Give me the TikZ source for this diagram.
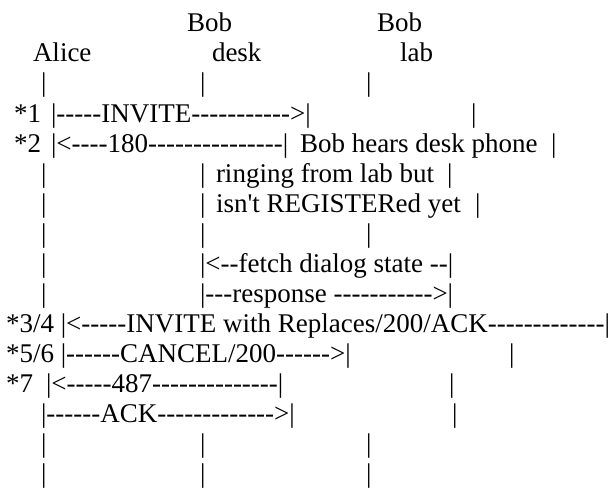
\documentclass[tikz,border=0pt]{standalone}
\usepackage{fontspec}
\setmainfont{Liberation Serif}[Ligatures=TeXOff]
\begin{document}
\begin{tikzpicture}[x=1pt, y=-1pt,
    txt/.style={anchor=base west, inner sep=0pt, outer sep=0pt,
        font=\fontsize{27}{31}\selectfont}
]
\useasboundingbox (0,0) rectangle (612,492);
\node[txt] (bobd) at (187,32) {Bob};
\node[txt] (bobl) at (377,32) {Bob};
\node[txt] (alice) at (33,62) {Alice};
\node[txt] (desk) at (212,62) {desk};
\node[txt] (lab) at (400,62) {lab};
\foreach \r/\y in {3/92, 8/242, 15/452, 16/482} {
    \node[txt] (l\r a) at (41,\y) {|};
    \node[txt] (l\r b) at (200,\y) {|};
    \node[txt] (l\r c) at (366,\y) {|};
}
\node[txt] (s1) at (14,122) {*1};
\node[txt] (m1) at (51,122) {|-----INVITE----------->|};
\node[txt] (l4c) at (471,122) {|};
\node[txt] (s2) at (14,152) {*2};
\node[txt] (m2) at (51,152) {|<----180---------------|};
\node[txt] (note1) at (300,152) {Bob hears desk phone};
\node[txt] (l5c) at (551,152) {|};
\node[txt] (l6a) at (41,182) {|};
\node[txt] (l6b) at (200,182) {|};
\node[txt] (note2) at (216,182) {ringing from lab but};
\node[txt] (l6c) at (447,182) {|};
\node[txt] (l7a) at (41,212) {|};
\node[txt] (l7b) at (200,212) {|};
\node[txt] (note3) at (216,212) {isn't REGISTERed yet};
\node[txt] (l7c) at (475,212) {|};
\node[txt] (l9a) at (41,272) {|};
\node[txt] (m3) at (200,272) {|<--fetch dialog state --|};
\node[txt] (l10a) at (41,302) {|};
\node[txt] (m4) at (200,302) {|---response ----------->|};
\node[txt] (m5) at (6,332) {*3/4 |<-----INVITE with Replaces/200/ACK-------------|};
\node[txt] (m6) at (6,362) {*5/6 |------CANCEL/200------>|};
\node[txt] (l12c) at (509,362) {|};
\node[txt] (s7) at (6,392) {*7};
\node[txt] (m7) at (46,392) {|<-----487--------------|};
\node[txt] (l13c) at (449,392) {|};
\node[txt] (m8) at (41,422) {|------ACK------------->|};
\node[txt] (l14c) at (452,422) {|};
\end{tikzpicture}
\end{document}
